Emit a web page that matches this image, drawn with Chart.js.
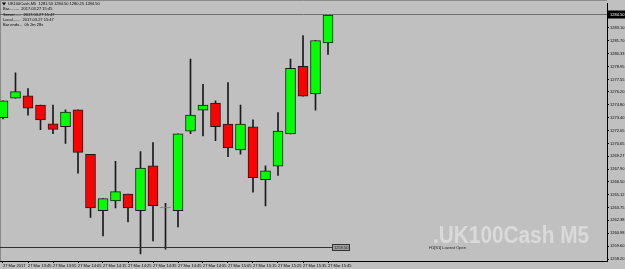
<!DOCTYPE html>
<html>
<head>
<meta charset="utf-8">
<script src="https://cdn.jsdelivr.net/npm/chart.js@4.4.1/dist/chart.umd.min.js"></script>
<style>
  html, body { margin: 0; padding: 0; background: #c0c0c0; }
  #mt-chart { display: block; }
</style>
</head>
<body>
<canvas id="mt-chart" width="625" height="269"></canvas>
<script>
// UK100Cash M5, 27 Mar 2017 13:35 .. 15:45
const opens  = [1273.42, 1275.53, 1275.78, 1274.78, 1272.78, 1272.45, 1274.28, 1269.49, 1263.42, 1264.45, 1265.20, 1263.42, 1268.24, 1263.70,
                1263.42, 1271.99, 1274.24, 1275.00, 1272.74, 1269.96, 1272.45, 1266.74, 1268.20, 1271.67, 1278.96, 1276.00, 1281.50];
const highs  = [1275.24, 1278.27, 1276.56, 1274.78, 1274.78, 1274.28, 1274.28, 1269.49, 1264.71, 1268.74, 1265.20, 1269.78, 1270.74, 1264.20,
                1271.70, 1279.74, 1277.03, 1275.24, 1277.20, 1274.78, 1273.20, 1268.24, 1273.99, 1279.74, 1282.28, 1281.75, 1284.50];
const lows   = [1273.31, 1275.53, 1273.71, 1272.13, 1271.70, 1270.67, 1267.45, 1262.67, 1260.70, 1263.70, 1262.20, 1258.74, 1260.16, 1259.27,
                1261.66, 1271.70, 1271.46, 1270.95, 1269.24, 1269.49, 1265.41, 1263.91, 1267.20, 1271.67, 1275.75, 1274.24, 1280.25];
const closes = [1275.24, 1276.24, 1274.46, 1273.20, 1272.17, 1274.03, 1269.70, 1263.70, 1264.71, 1265.46, 1263.70, 1267.99, 1263.96, 1263.70,
                1271.70, 1273.71, 1274.78, 1272.45, 1270.17, 1272.74, 1266.96, 1267.71, 1271.99, 1278.75, 1275.75, 1281.75, 1284.50];

const timeTickIdx = [0, 2, 4, 6, 8, 10, 12, 14, 16, 18, 20, 22, 24, 26];
const timeLabels = ['27 Mar 2017', '27 Mar 13:45', '27 Mar 13:55', '27 Mar 14:05', '27 Mar 14:15', '27 Mar 14:25', '27 Mar 14:35',
                    '27 Mar 14:45', '27 Mar 14:55', '27 Mar 15:05', '27 Mar 15:15', '27 Mar 15:25', '27 Mar 15:35', '27 Mar 15:45'];

const priceTicks = [1258.20, 1259.60, 1260.98, 1262.38, 1263.75, 1265.12, 1266.50, 1267.90, 1269.27, 1270.65,
                    1272.05, 1273.40, 1274.80, 1276.20, 1277.55, 1278.95, 1280.33, 1281.70, 1283.10];

const bidPrice = 1284.50;
const lowestOpen = 1259.50;

const headerLines = [
    'UK100Cash,M5  ' + [opens[26], highs[26], lows[26], closes[26]].map(v => v.toFixed(2)).join(' '),
    'Bar.........  2017.03.27 15:45',
    'Server......  2017.03.27 15:47',
    'Local.......  2017.03.27 15:47',
    'Bar ends...  0h 2m 28s'
];

const fontName = 'Liberation Sans';
const xRange = [-0.24, 48.32];
const yRange = [1257.986, 1285.746];

const mtOverlay = {
    id: 'mtOverlay',
    beforeDraw(chart) {
        const c = chart.ctx;
        c.save();
        c.fillStyle = '#c0c0c0';
        c.fillRect(0, 0, chart.width, chart.height);
        c.restore();
    },
    beforeDatasetsDraw(chart) {
        const c = chart.ctx, area = chart.chartArea;
        c.save();
        // watermark
        c.fillStyle = '#dadada';
        c.font = 'bold 26px ' + fontName;
        c.textBaseline = 'alphabetic';
        c.translate(433, 243);
        c.scale(0.8, 0.95);
        c.fillText('.UK100Cash M5', 0, 0);
        c.restore();

        // left / top frame
        c.save();
        c.strokeStyle = '#8a8a8a';
        c.lineWidth = 1;
        c.beginPath();
        c.moveTo(0.5, area.bottom);
        c.lineTo(0.5, 0.5);
        c.lineTo(area.right, 0.5);
        c.stroke();
        c.restore();
    },
    afterDatasetsDraw(chart) {
        const c = chart.ctx, area = chart.chartArea;
        const x = chart.scales.x, y = chart.scales.y;
        c.save();

        // bid line
        const by = Math.round(y.getPixelForValue(bidPrice)) - 0.5;
        c.strokeStyle = '#707070';
        c.lineWidth = 1;
        c.beginPath();
        c.moveTo(area.left, by);
        c.lineTo(area.right, by);
        c.stroke();

        // lowest open line + price box
        const ly = Math.round(y.getPixelForValue(lowestOpen)) + 0.5;
        const lx = x.getPixelForValue(opens.length - 1) + 4;
        c.strokeStyle = '#303030';
        c.beginPath();
        c.moveTo(area.left, ly);
        c.lineTo(lx, ly);
        c.stroke();
        c.fillStyle = '#a0a0a0';
        c.fillRect(lx, ly - 3, 17, 6);
        c.strokeStyle = '#303030';
        c.strokeRect(lx + 0.5, ly - 3, 17, 6);
        c.fillStyle = '#202020';
        c.font = '4px ' + fontName;
        c.textBaseline = 'middle';
        c.fillText(lowestOpen.toFixed(2), lx + 2, ly);
        c.fillText('H1[S1] Lowest Open', 429, ly);

        // header
        c.fillStyle = '#000';
        c.font = '4px ' + fontName;
        c.textBaseline = 'middle';
        const rows = [4, 9, 15, 20, 25];
        c.beginPath();
        c.moveTo(2, 2.5); c.lineTo(6, 2.5); c.lineTo(4, 5.5); c.closePath();
        c.fill();
        headerLines.forEach((t, i) => {
            c.fillText(t, i === 0 ? 8 : 3, rows[i]);
        });

        // bid label on price axis
        c.fillStyle = '#000';
        c.fillRect(area.right + 1, by - 4, chart.width - area.right - 1, 8);
        c.fillStyle = '#fff';
        c.fillText(bidPrice.toFixed(2), area.right + 3, by + 0.5);
        c.restore();
    }
};

document.addEventListener('DOMContentLoaded', () => {
    const ctx = document.getElementById('mt-chart');

    const wicks = opens.map((o, i) => ({ x: i, y: [lows[i], highs[i]] }));
    const bodies = opens.map((o, i) => ({ x: i, y: [o, closes[i]] }));

    new Chart(ctx, {
        type: 'bar',
        data: {
            datasets: [
                {
                    label: 'wick',
                    data: wicks,
                    backgroundColor: '#1a1a1a',
                    barThickness: 1,
                    grouped: false,
                    order: 2
                },
                {
                    label: 'body',
                    data: bodies,
                    backgroundColor: c => {
                        const i = c.dataIndex;
                        if (closes[i] === opens[i]) return '#808080';
                        return closes[i] > opens[i] ? '#00ff00' : '#ff0000';
                    },
                    borderColor: c => closes[c.dataIndex] === opens[c.dataIndex] ? '#808080' : '#1a1a1a',
                    borderWidth: 1,
                    borderSkipped: false,
                    barThickness: 10,
                    minBarLength: 1,
                    grouped: false,
                    order: 1
                }
            ]
        },
        options: {
            responsive: false,
            animation: false,
            devicePixelRatio: 1,
            layout: { autoPadding: false, padding: { top: 2, left: 0, right: 0, bottom: 0 } },
            plugins: {
                legend: { display: false },
                tooltip: { enabled: false }
            },
            scales: {
                x: {
                    type: 'linear',
                    offset: false,
                    bounds: 'data',
                    min: xRange[0],
                    max: xRange[1],
                    afterDataLimits: s => { s.min = xRange[0]; s.max = xRange[1]; },
                    afterBuildTicks: s => {
                        s.min = xRange[0]; s.max = xRange[1];
                        s.ticks = timeTickIdx.map(v => ({ value: v }));
                    },
                    afterFit: s => { s.height = 8; },
                    grid: { offset: false, drawOnChartArea: false, drawTicks: true, tickLength: 2, color: '#000' },
                    border: { display: true, color: '#000', width: 1 },
                    ticks: {
                        autoSkip: false,
                        maxRotation: 0,
                        align: 'start',
                        padding: 0,
                        color: '#000',
                        font: { family: fontName, size: 4 },
                        callback: (v, i) => timeLabels[i]
                    }
                },
                y: {
                    position: 'right',
                    bounds: 'data',
                    min: yRange[0],
                    max: yRange[1],
                    afterBuildTicks: s => {
                        s.min = yRange[0]; s.max = yRange[1];
                        s.ticks = priceTicks.map(v => ({ value: v }));
                    },
                    afterFit: s => { s.width = 18; },
                    grid: { drawOnChartArea: false, drawTicks: true, tickLength: 2, color: '#000' },
                    border: { display: true, color: '#000', width: 1 },
                    ticks: {
                        padding: 1,
                        color: '#000',
                        font: { family: fontName, size: 4 },
                        callback: (v, i) => priceTicks[i].toFixed(2)
                    }
                }
            }
        },
        plugins: [mtOverlay]
    });
});
</script>
</body>
</html>
